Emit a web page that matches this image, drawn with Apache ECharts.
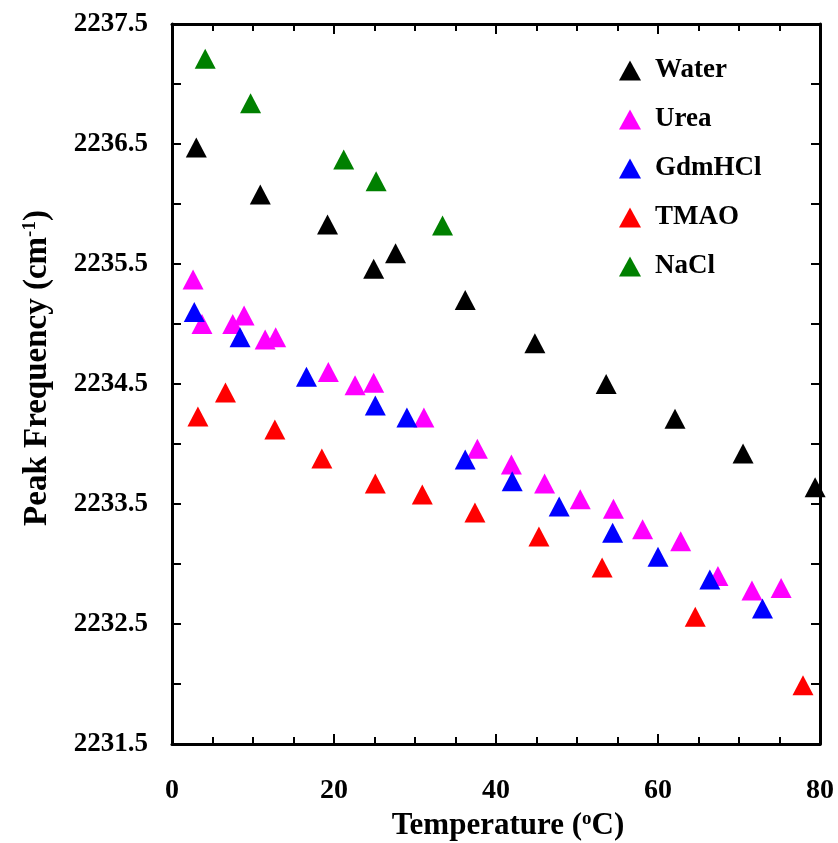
<!DOCTYPE html>
<html>
<head>
<meta charset="utf-8">
<script src="https://cdn.jsdelivr.net/npm/echarts@6/dist/echarts.min.js"></script>
<style>html,body{margin:0;padding:0;background:#fff}#c{width:838px;height:843px}</style>
</head>
<body>
<div id="c"></div>
<script>
// ---- data ----
const seriesNames = ['Water', 'Urea', 'GdmHCl', 'TMAO', 'NaCl'];
const seriesColors = ['#000000', '#ff00ff', '#0000ff', '#ff0000', '#008000'];

const tempWater = [3.0, 10.9, 19.2, 24.9, 27.6, 36.2, 44.8, 53.6, 62.1, 70.5, 79.4];
const freqWater = [2236.47, 2236.08, 2235.83, 2235.46, 2235.59, 2235.20, 2234.84, 2234.50, 2234.21, 2233.92, 2233.64];

const tempUrea = [2.6, 3.7, 7.5, 8.9, 11.5, 12.8, 19.3, 22.6, 24.9, 31.1, 37.7, 41.9, 46.0, 50.4, 54.5, 58.1, 62.8, 67.4, 71.6, 75.2];
const freqUrea = [2235.37, 2235.00, 2235.00, 2235.07, 2234.87, 2234.89, 2234.60, 2234.49, 2234.51, 2234.22, 2233.96, 2233.83, 2233.67, 2233.54, 2233.46, 2233.29, 2233.19, 2232.90, 2232.78, 2232.80];

const tempGdm = [2.75, 8.4, 16.6, 25.1, 29.0, 36.2, 42.0, 47.8, 54.4, 60.0, 66.4, 72.9];
const freqGdm = [2235.10, 2234.89, 2234.56, 2234.32, 2234.22, 2233.87, 2233.69, 2233.48, 2233.26, 2233.06, 2232.87, 2232.63];

const tempTmao = [3.2, 6.6, 12.7, 18.5, 25.1, 30.9, 37.4, 45.3, 53.1, 64.6, 77.9];
const freqTmao = [2234.23, 2234.43, 2234.12, 2233.88, 2233.67, 2233.58, 2233.43, 2233.23, 2232.97, 2232.56, 2231.99];

const tempNacl = [4.1, 9.7, 21.2, 25.2, 33.4];
const freqNacl = [2237.21, 2236.84, 2236.37, 2236.19, 2235.82];

const xTicks = [0, 20, 40, 60, 80];
const yTickLabels = [2231.5, 2232.5, 2233.5, 2234.5, 2235.5, 2236.5, 2237.5];

// ---- build ----
const pairs = (xs, ys) => xs.map((x, i) => [x, ys[i]]);
const allData = [
  pairs(tempWater, freqWater),
  pairs(tempUrea, freqUrea),
  pairs(tempGdm, freqGdm),
  pairs(tempTmao, freqTmao),
  pairs(tempNacl, freqNacl)
];

const FONT = '"Times New Roman", "Liberation Serif", serif';
const axisLine = { show: true, onZero: false, lineStyle: { color: '#000', width: 3 } };
const supStyle = { fontFamily: FONT, fontWeight: 'bold', fontSize: 19, verticalAlign: 'top', padding: [0, 0, 14, 0] };

const chart = echarts.init(document.getElementById('c'));
chart.setOption({
  backgroundColor: '#fff',
  animation: false,
  grid: { left: 172, right: 18, top: 24, bottom: 99, containLabel: false, outerBoundsMode: 'none' },
  legend: {
    orient: 'vertical',
    left: 614,
    top: 52,
    itemGap: 22,
    itemWidth: 22,
    itemHeight: 20,
    data: seriesNames,
    textStyle: { fontFamily: FONT, fontWeight: 'bold', fontSize: 27, color: '#000', padding: [0, 0, 0, 9] }
  },
  xAxis: [{
    type: 'value', min: 0, max: 80, interval: 20,
    position: 'bottom',
    axisLine: axisLine,
    axisTick: { inside: true, length: 10, lineStyle: { color: '#000', width: 2 } },
    minorTick: { show: true, splitNumber: 4, length: 7, lineStyle: { color: '#000', width: 2 } },
    splitLine: { show: false },
    axisLabel: {
      margin: 33, color: '#000', fontFamily: FONT, fontWeight: 'bold', fontSize: 28,
      formatter: v => xTicks.includes(v) ? String(v) : ''
    },
    name: 'Temperature ({sup|o}C)',
    nameLocation: 'middle',
    nameGap: 62,
    nameTextStyle: {
      color: '#000', fontFamily: FONT, fontWeight: 'bold', fontSize: 31,
      padding: [0, 0, 0, 24],
      rich: { sup: supStyle }
    }
  }, {
    type: 'value', min: 0, max: 80, interval: 20,
    position: 'top',
    axisLine: axisLine,
    axisTick: { inside: true, length: 10, lineStyle: { color: '#000', width: 2 } },
    minorTick: { show: true, splitNumber: 4, length: 7, lineStyle: { color: '#000', width: 2 } },
    splitLine: { show: false },
    axisLabel: { show: false }
  }],
  yAxis: [{
    type: 'value', min: 2231.5, max: 2237.5, interval: 0.5,
    position: 'left',
    axisLine: axisLine,
    axisTick: { inside: true, length: 9, lineStyle: { color: '#000', width: 2 } },
    splitLine: { show: false },
    axisLabel: {
      margin: 24, color: '#000', fontFamily: FONT, fontWeight: 'bold', fontSize: 27,
      formatter: v => {
        const hit = yTickLabels.find(t => Math.abs(t - v) < 1e-6);
        return hit !== undefined ? hit.toFixed(1) : '';
      }
    },
    name: 'Peak Frequency (cm{sup|-1})',
    nameLocation: 'middle',
    nameRotate: 90,
    nameGap: 118,
    nameTextStyle: {
      color: '#000', fontFamily: FONT, fontWeight: 'bold', fontSize: 33,
      padding: [0, 0, 0, 32],
      rich: { sup: supStyle }
    }
  }, {
    type: 'value', min: 2231.5, max: 2237.5, interval: 0.5,
    position: 'right',
    axisLine: axisLine,
    axisTick: { inside: true, length: 9, lineStyle: { color: '#000', width: 2 } },
    splitLine: { show: false },
    axisLabel: { show: false }
  }],
  series: seriesNames.map((name, i) => ({
    name: name,
    type: 'scatter',
    xAxisIndex: 0,
    yAxisIndex: 0,
    symbol: 'triangle',
    symbolSize: [21, 20],
    itemStyle: { color: seriesColors[i], opacity: 1 },
    emphasis: { disabled: true },
    data: allData[i],
    z: 2 + i
  }))
});
</script>
</body>
</html>
